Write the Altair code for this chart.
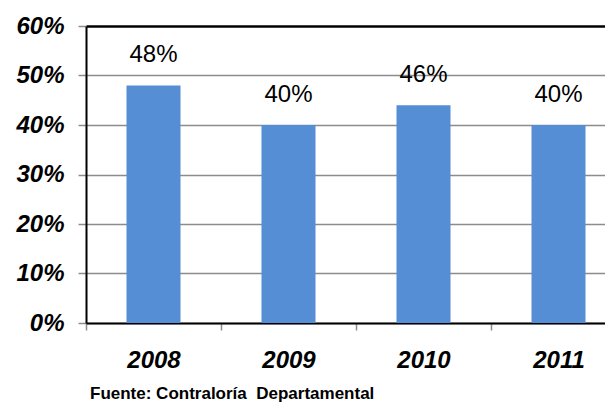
import altair as alt
import pandas as pd

years = ["2008", "2009", "2010", "2011"]
values = [0.48, 0.40, 0.44, 0.40]
labels = ["48%", "40%", "46%", "40%"]

df = pd.DataFrame({"year": years, "value": values, "label": labels})

FONT = "Liberation Sans"

x = alt.X(
    "year:N",
    sort=years,
    title=None,
    scale=alt.Scale(paddingInner=0, paddingOuter=0),
    axis=alt.Axis(
        labelAngle=0,
        labelFont=FONT,
        labelFontSize=24,
        labelFontWeight="bold",
        labelFontStyle="italic",
        labelColor="#000000",
        labelPadding=18,
        tickBand="extent",
        tickColor="#8c8c8c",
        tickWidth=1.5,
        tickSize=7,
        domainColor="#000000",
        domainWidth=2,
        grid=False,
    ),
)

y = alt.Y(
    "value:Q",
    title=None,
    scale=alt.Scale(domain=[0, 0.6], nice=False),
    axis=alt.Axis(
        format=".0%",
        values=[0, 0.1, 0.2, 0.3, 0.4, 0.5, 0.6],
        labelFont=FONT,
        labelFontSize=24,
        labelFontWeight="bold",
        labelFontStyle="italic",
        labelColor="#000000",
        labelPadding=14,
        tickColor="#8c8c8c",
        tickWidth=1.5,
        tickSize=8,
        domainColor="#000000",
        domainWidth=2,
        grid=True,
        gridColor={"condition": {"test": "datum.value >= 0.6", "value": "#000000"}, "value": "#8c8c8c"},
        gridWidth={"condition": {"test": "datum.value >= 0.6", "value": 2.5}, "value": 1.5},
    ),
)

bars = alt.Chart(df).mark_bar(
    color="#558ED5", width=alt.RelativeBandSize(0.4)
).encode(x=x, y=y)

text = alt.Chart(df).mark_text(
    font=FONT, fontSize=24, color="#000000", baseline="bottom", dy=-18
).encode(x=alt.X("year:N", sort=years), y="value:Q", text="label:N")

chart = (
    alt.layer(bars, text)
    .properties(
        width=alt.Step(135),
        height=297,
        autosize=alt.AutoSizeParams(type="none"),
        padding={"left": 78, "top": 18, "right": -21, "bottom": 80},
        title=alt.TitleParams(
            "Fuente: Contraloría\u00a0 Departamental",
            orient="bottom",
            anchor="start",
            frame="group",
            font=FONT,
            fontSize=17,
            fontWeight="bold",
            color="#000000",
            offset=14,
            dx=4,
        ),
    )
    .configure_view(stroke=None)
    .configure(background="white")
)

chart.save("out.html", embed_options={"renderer": "svg", "actions": False})
